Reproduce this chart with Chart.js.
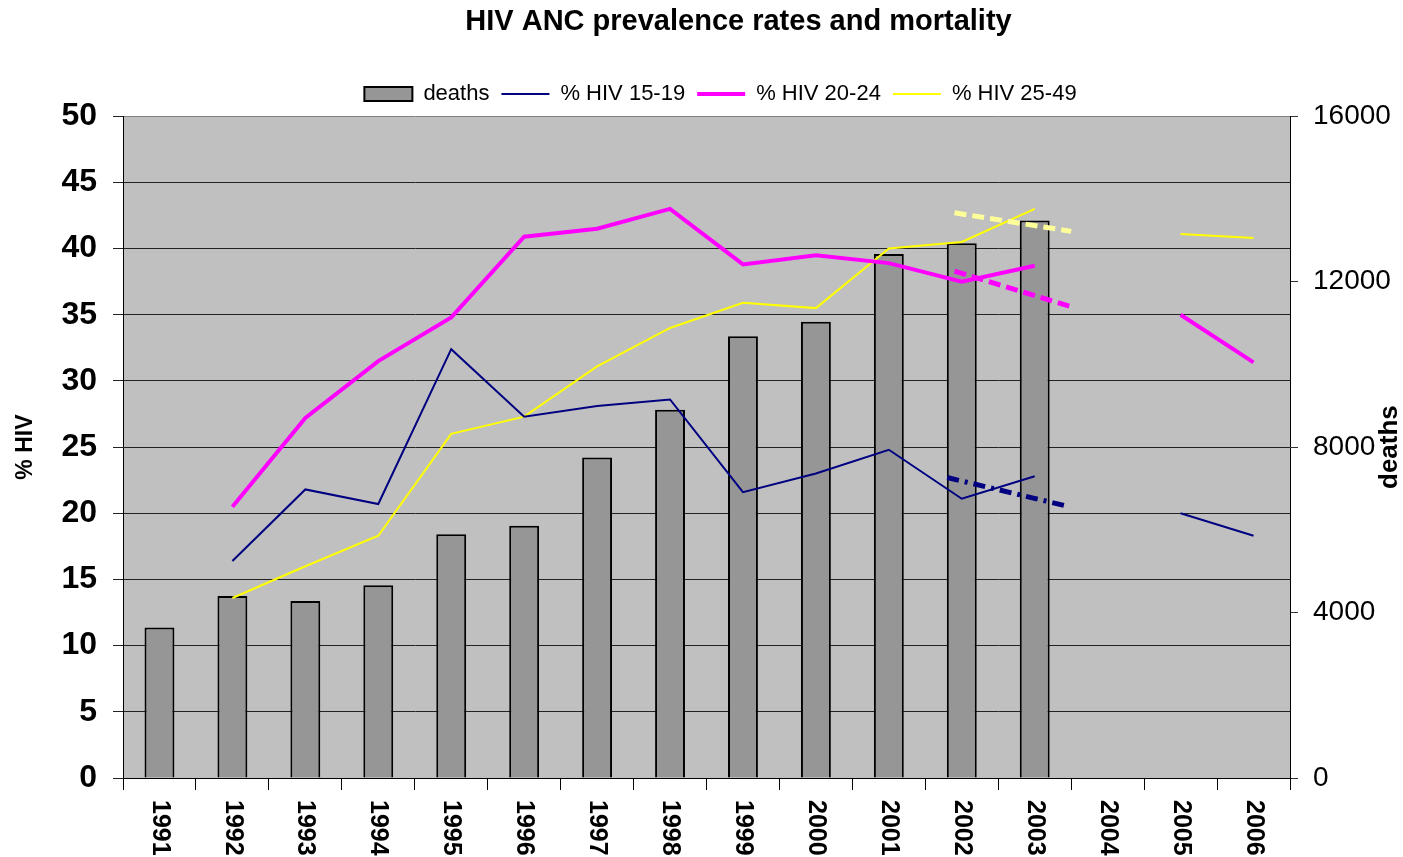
<!DOCTYPE html>
<html>
<head>
<meta charset="utf-8">
<title>HIV ANC prevalence rates and mortality</title>
<script src="https://cdn.jsdelivr.net/npm/chart.js@4.4.1/dist/chart.umd.min.js"></script>
<style>
  body { margin: 0; background: #fff; }
  #wrap { width: 1403px; height: 857px; }
</style>
</head>
<body>
<div id="wrap"><canvas id="hivChart"></canvas></div>
<script>
// * data
const chartTitle = "HIV ANC prevalence rates and mortality";
const years = ["1991", "1992", "1993", "1994", "1995", "1996", "1997", "1998",
  "1999", "2000", "2001", "2002", "2003", "2004", "2005", "2006"];
const deaths = [3640, 4400, 4280, 4660, 5890, 6100, 7750, 8900,
  10680, 11030, 12670, 12930, 13480, null, null, null];
const hiv1519 = [null, 16.4, 21.8, 20.7, 32.4, 27.3, 28.1, 28.6,
  21.6, 23.0, 24.8, 21.1, 22.8, null, 20.0, 18.3];
const hiv2024 = [null, 20.5, 27.2, 31.5, 34.8, 40.9, 41.5, 43.0,
  38.8, 39.5, 38.9, 37.5, 38.7, null, 35.0, 31.4];
const hiv2549 = [null, 13.6, 16.0, 18.3, 26.0, 27.3, 31.1, 34.0,
  35.9, 35.5, 40.0, 40.5, 43.0, null, 41.1, 40.8];

// * dashed trend lines (year position, % HIV)
const trendYears = [2001.9, 2003.5];
const trend1519Years = [2001.8, 2003.4];
const trend1519 = [22.7, 20.6];
const trend2024 = [38.3, 35.6];
const trend2549 = [42.7, 41.3];

const leftTicks = { min: 0, max: 50, step: 5 };
const rightTicks = { min: 0, max: 16000, step: 4000 };

const FONT = "'Liberation Sans', Arial, sans-serif";
const toPoints = (xs, ys) => xs.map((x, i) => ({ x: x, y: ys[i] }));

// ? plot background, title, axis titles, year labels (rotated clockwise)
const extraText = {
  id: "extraText",
  beforeDraw(chart) {
    const { ctx, chartArea: a } = chart;
    ctx.save();
    ctx.fillStyle = "#c0c0c0";
    ctx.fillRect(a.left, a.top, a.right - a.left, a.bottom - a.top);
    ctx.restore();
  },
  afterDraw(chart) {
    const { ctx, chartArea: a } = chart;
    const xScale = chart.scales.x;
    ctx.save();
    ctx.fillStyle = "#000";
    ctx.textBaseline = "middle";

    ctx.font = "bold 29px " + FONT;
    ctx.textAlign = "center";
    ctx.fillText(chartTitle, (a.left + a.right) / 2 + 32, 22);

    ctx.font = "bold 23px " + FONT;
    ctx.save();
    ctx.translate(26, (a.top + a.bottom) / 2);
    ctx.rotate(-Math.PI / 2);
    ctx.fillText("% HIV", 0, 0);
    ctx.restore();

    ctx.font = "bold 26px " + FONT;
    ctx.save();
    ctx.translate(1390, (a.top + a.bottom) / 2);
    ctx.rotate(-Math.PI / 2);
    ctx.fillText("deaths", 0, 0);
    ctx.restore();

    ctx.font = "bold 25px " + FONT;
    ctx.textAlign = "left";
    years.forEach((yr, i) => {
      ctx.save();
      ctx.translate(xScale.getPixelForValue(i), a.bottom + 22);
      ctx.rotate(Math.PI / 2);
      ctx.fillText(yr, 0, 0);
      ctx.restore();
    });
    ctx.restore();
  },
};

const ctx = document.getElementById("hivChart").getContext("2d");
const hivChart = new Chart(ctx, {
  type: "bar",
  data: {
    labels: years,
    datasets: [
      {
        type: "bar",
        label: "deaths",
        data: deaths,
        xAxisID: "x",
        yAxisID: "y2",
        backgroundColor: "#969696",
        borderColor: "#000",
        borderWidth: 2,
        barPercentage: 0.41,
        categoryPercentage: 1,
        grouped: false,
        pointStyle: "rect",
        order: 5,
      },
      {
        type: "line",
        label: "% HIV 15-19",
        data: hiv1519,
        xAxisID: "x",
        yAxisID: "y",
        borderColor: "#000080",
        backgroundColor: "#000080",
        borderWidth: 2,
        pointRadius: 0,
        pointStyle: "line",
        order: 1,
      },
      {
        type: "line",
        label: "% HIV 20-24",
        data: hiv2024,
        xAxisID: "x",
        yAxisID: "y",
        borderColor: "#ff00ff",
        backgroundColor: "#ff00ff",
        borderWidth: 4,
        pointRadius: 0,
        pointStyle: "line",
        order: 1,
      },
      {
        type: "line",
        label: "% HIV 25-49",
        data: hiv2549,
        xAxisID: "x",
        yAxisID: "y",
        borderColor: "#ffff00",
        backgroundColor: "#ffff00",
        borderWidth: 2,
        pointRadius: 0,
        pointStyle: "line",
        order: 1,
      },
      {
        type: "line",
        label: "trend 25-49",
        data: toPoints(trendYears, trend2549),
        xAxisID: "xt",
        yAxisID: "y",
        borderColor: "#ffff99",
        borderWidth: 5,
        borderDash: [12, 6],
        pointRadius: 0,
        order: 0,
      },
      {
        type: "line",
        label: "trend 20-24",
        data: toPoints(trendYears, trend2024),
        xAxisID: "xt",
        yAxisID: "y",
        borderColor: "#ff00ff",
        borderWidth: 5,
        borderDash: [12, 6],
        pointRadius: 0,
        order: 0,
      },
      {
        type: "line",
        label: "trend 15-19",
        data: toPoints(trend1519Years, trend1519),
        xAxisID: "xt",
        yAxisID: "y",
        borderColor: "#000080",
        borderWidth: 5,
        borderDash: [12, 6, 3, 6],
        pointRadius: 0,
        order: 0,
      },
    ],
  },
  options: {
    responsive: true,
    maintainAspectRatio: false,
    animation: false,
    devicePixelRatio: 1,
    layout: { padding: { top: 71, left: 38, right: 0, bottom: 0 } },
    plugins: {
      title: { display: false },
      subtitle: {
        display: true,
        text: " ",
        weight: 500,
        fullSize: false,
        font: { size: 1 },
        padding: { top: 0, bottom: 0 },
      },
      legend: {
        position: "top",
        fullSize: true,
        labels: {
          usePointStyle: true,
          pointStyleWidth: 48,
          boxHeight: 14,
          padding: 12,
          color: "#000",
          font: { family: FONT, size: 22 },
          filter: (item) => item.datasetIndex < 4,
          sort: (a, b) => a.datasetIndex - b.datasetIndex,
        },
      },
      tooltip: { enabled: false },
    },
    scales: {
      x: {
        type: "category",
        offset: true,
        grid: {
          offset: true,
          drawOnChartArea: false,
          tickLength: 12,
          color: "#000",
        },
        border: { color: "#000" },
        ticks: { display: false },
        afterFit: (s) => { s.height = 79; },
      },
      xt: {
        type: "linear",
        display: false,
        offset: false,
        min: 1990.5,
        max: 2006.5,
      },
      y: {
        position: "left",
        min: leftTicks.min,
        max: leftTicks.max,
        ticks: {
          stepSize: leftTicks.step,
          padding: 16,
          color: "#000",
          font: { family: FONT, size: 32, weight: "bold" },
        },
        grid: {
          color: (c) => (c.tick && c.tick.value === leftTicks.max ? "#808080" : "#222"),
          tickColor: "#222",
          tickLength: 10,
        },
        border: { color: "#000" },
        afterFit: (s) => { s.width = 85; },
      },
      y2: {
        position: "right",
        min: rightTicks.min,
        max: rightTicks.max,
        ticks: {
          stepSize: rightTicks.step,
          padding: 15,
          color: "#000",
          font: { family: FONT, size: 28 },
          callback: (v) => String(v),
        },
        grid: { drawOnChartArea: false, tickLength: 8, color: "#333" },
        border: { color: "#000" },
        afterFit: (s) => { s.width = 113; },
      },
    },
  },
  plugins: [extraText],
});
</script>
</body>
</html>
